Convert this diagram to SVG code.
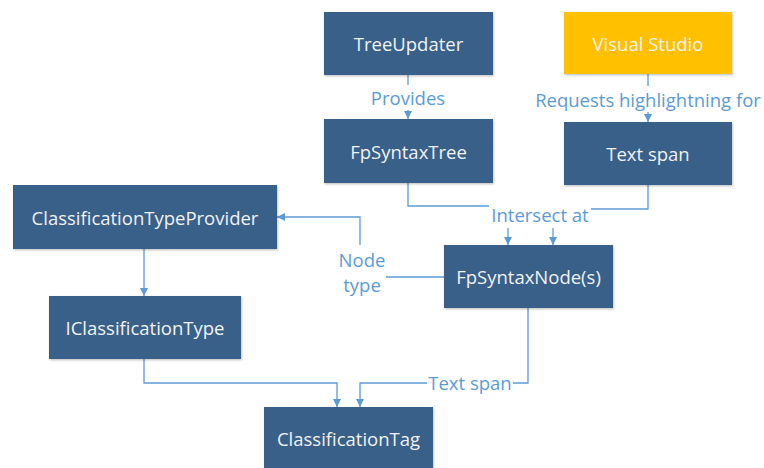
<svg xmlns="http://www.w3.org/2000/svg" width="764" height="468" viewBox="0 0 764 468">
  <defs>
    <style>
      .box { fill: #386188; }
      .box-hl { fill: #ffc000; }
      .node-text { font-family: "Open Sans", "Liberation Sans", sans-serif; font-size: 18.5px; fill: #f2f2f2; text-anchor: middle; dominant-baseline: central; }
      .label { font-family: "Open Sans", "Liberation Sans", sans-serif; font-size: 18.5px; fill: #5b9bd5; text-anchor: middle; dominant-baseline: central; }
      .wire { fill: none; stroke: #5b9bd5; stroke-width: 1.3; }
    </style>
    <marker id="arrow" viewBox="0 0 10 10" refX="10" refY="5" markerWidth="8" markerHeight="8" markerUnits="userSpaceOnUse" orient="auto">
      <path d="M0,0 L10,5 L0,10 z" fill="#5b9bd5"/>
    </marker>
    <filter id="shadow" x="-5%" y="-5%" width="115%" height="120%">
      <feDropShadow dx="0.8" dy="1.2" stdDeviation="1" flood-color="#000" flood-opacity="0.25"/>
    </filter>
  </defs>

  <!-- connectors -->
  <g id="connectors">
    <!-- TreeUpdater -> FpSyntaxTree -->
    <path class="wire" d="M408,75 V85"/>
    <path class="wire" d="M408,110 V119" marker-end="url(#arrow)"/>
    <text class="label" x="408" y="97">Provides</text>

    <!-- Visual Studio -> Text span -->
    <path class="wire" d="M648,74 V86"/>
    <path class="wire" d="M648,112 V122" marker-end="url(#arrow)"/>
    <text class="label" x="648" y="99">Requests highlightning for</text>

    <!-- FpSyntaxTree / Text span -> FpSyntaxNode(s) -->
    <path class="wire" d="M408,183 V206 H489"/>
    <path class="wire" d="M591,209 H648 V185"/>
    <text class="label" x="540" y="214">Intersect at</text>
    <path class="wire" d="M508,228 V245" marker-end="url(#arrow)"/>
    <path class="wire" d="M553,228 V245" marker-end="url(#arrow)"/>

    <!-- FpSyntaxNode(s) -> ClassificationTypeProvider -->
    <path class="wire" d="M444,277 H386"/>
    <path class="wire" d="M360,245 V217 H277" marker-end="url(#arrow)"/>
    <text class="label" x="362" y="259">Node</text>
    <text class="label" x="362" y="284">type</text>

    <!-- ClassificationTypeProvider -> IClassificationType -->
    <path class="wire" d="M144,249 V296" marker-end="url(#arrow)"/>

    <!-- IClassificationType -> ClassificationTag -->
    <path class="wire" d="M144,359 V383 H337 V407" marker-end="url(#arrow)"/>

    <!-- FpSyntaxNode(s) -> ClassificationTag -->
    <path class="wire" d="M528,308 V383 H513"/>
    <path class="wire" d="M427,383 H360 V407" marker-end="url(#arrow)"/>
    <text class="label" x="470" y="382">Text span</text>
  </g>

  <!-- nodes -->
  <g id="tree-updater">
    <rect class="box" x="324" y="12" width="169" height="63" filter="url(#shadow)"/>
    <text class="node-text" x="408.5" y="43.5">TreeUpdater</text>
  </g>
  <g id="visual-studio">
    <rect class="box-hl" x="564" y="12" width="168" height="62" filter="url(#shadow)"/>
    <text class="node-text" x="648" y="43">Visual Studio</text>
  </g>
  <g id="fp-syntax-tree">
    <rect class="box" x="324" y="119" width="169" height="64" filter="url(#shadow)"/>
    <text class="node-text" x="408.5" y="151">FpSyntaxTree</text>
  </g>
  <g id="text-span">
    <rect class="box" x="564" y="122" width="168" height="63" filter="url(#shadow)"/>
    <text class="node-text" x="648" y="153.5">Text span</text>
  </g>
  <g id="classification-type-provider">
    <rect class="box" x="13" y="185" width="264" height="64" filter="url(#shadow)"/>
    <text class="node-text" x="145" y="217">ClassificationTypeProvider</text>
  </g>
  <g id="fp-syntax-node">
    <rect class="box" x="444" y="245" width="169" height="63" filter="url(#shadow)"/>
    <text class="node-text" x="528.5" y="276.5">FpSyntaxNode(s)</text>
  </g>
  <g id="iclassification-type">
    <rect class="box" x="49" y="296" width="192" height="63" filter="url(#shadow)"/>
    <text class="node-text" x="145" y="327.5">IClassificationType</text>
  </g>
  <g id="classification-tag">
    <rect class="box" x="264" y="407" width="169" height="66" filter="url(#shadow)"/>
    <text class="node-text" x="348.5" y="438">ClassificationTag</text>
  </g>
</svg>
